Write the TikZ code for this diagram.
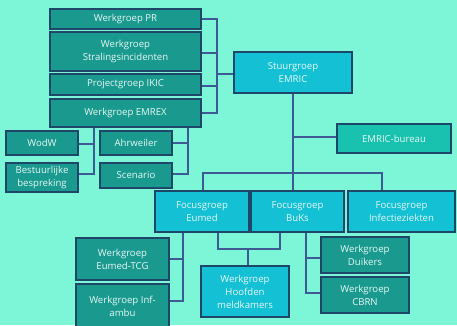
\documentclass[tikz,border=0pt]{standalone}
\usepackage{fontspec}
\setmainfont{Open Sans}
\definecolor{bg}{RGB}{125,245,215}
\definecolor{teal}{RGB}{26,154,143}
\definecolor{cyanbox}{RGB}{20,192,212}
\definecolor{greenbox}{RGB}{24,194,174}
\definecolor{linec}{RGB}{62,90,148}
\definecolor{bord}{RGB}{30,70,105}
\definecolor{txt}{RGB}{230,248,245}
\tikzset{
  box/.style={draw=bord, line width=1.1pt, text=txt, align=center, inner sep=0pt,
    font=\fontsize{9.6}{13}\selectfont},
  tealbox/.style={box, fill=teal},
  cyanb/.style={box, fill=cyanbox},
  greenb/.style={box, fill=greenbox},
  conn/.style={draw=linec, line width=1.4pt},
}
% box from corners
\newcommand{\mybox}[7]{% style, name, x1,y1,x2,y2, text
  \node[#1, minimum width=#5pt-#3pt, minimum height=#6pt-#4pt] (#2) at ({(#3+#5)/2},{(#4+#6)/2}) {#7};}
\begin{document}
\begin{tikzpicture}[x=1pt,y=-1pt]
\fill[bg] (0,0) rectangle (457,325);
\useasboundingbox (0,0) rectangle (457,325);
\begin{scope}
\clip (0,0) rectangle (457,325);
% connectors first
\coordinate (b1) at (217,19);
\coordinate (b2) at (217,113);
\coordinate (s1) at (217,74);
\draw[conn] (201,19) -- (b1) -- (b2) -- (201,113);
\draw[conn] (201,53) -- (217,53);
\draw[conn] (201,86) -- (217,86);
\draw[conn] (s1) -- (234,74);
% stuurgroep down
\draw[conn] (293,93) -- (293,191);
\draw[conn] (293,137) -- (337,137);
\draw[conn] (203,191) -- (203,173) -- (382,173) -- (382,191);
% EMREX subs
\draw[conn] (94,127) -- (94,174) -- (78,174);
\draw[conn] (94,144) -- (78,144);
\draw[conn] (188,127) -- (188,174) -- (172,174);
\draw[conn] (188,143) -- (172,143);
% Eumed subs
\draw[conn] (183,232) -- (183,301) -- (169,301);
\draw[conn] (183,259) -- (169,259);
\draw[conn] (218,232) -- (218,249) -- (280,249) -- (280,232);
\draw[conn] (248,249) -- (248,265);
% BuKs subs
\draw[conn] (306,232) -- (306,293) -- (321,293);
\draw[conn] (306,258) -- (321,258);
% boxes
\mybox{tealbox}{pr}{50}{9}{201}{29}{Werkgroep PR}
\mybox{tealbox}{stral}{50}{32}{201}{71}{Werkgroep\\Stralingsincidenten}
\mybox{tealbox}{ikic}{50}{74}{201}{95}{Projectgroep IKIC}
\mybox{tealbox}{emrex}{50}{99}{201}{127}{Werkgroep EMREX}
\mybox{cyanb}{stuur}{234}{52}{352}{93}{Stuurgroep\\EMRIC}
\mybox{greenb}{bureau}{337}{124}{451}{153}{EMRIC-bureau}
\mybox{tealbox}{wodw}{6}{131}{78}{155}{WodW}
\mybox{tealbox}{best}{6}{163}{78}{192}{Bestuurlijke\\bespreking}
\mybox{tealbox}{ahr}{100}{131}{172}{155}{Ahrweiler}
\mybox{tealbox}{scen}{100}{163}{172}{188}{Scenario}
\mybox{cyanb}{eumed}{155}{191}{249}{232}{Focusgroep\\Eumed}
\mybox{cyanb}{buks}{251}{191}{344}{232}{Focusgroep\\BuKs}
\mybox{cyanb}{infect}{348}{191}{455}{232}{Focusgroep\\Infectieziekten}
\mybox{tealbox}{tcg}{76}{238}{169}{280}{Werkgroep\\Eumed-TCG}
\mybox{tealbox}{infamb}{76}{284}{169}{328}{Werkgroep Inf-\\ambu}
\mybox{cyanb}{hoofden}{201}{266}{289}{317}{Werkgroep\\Hoofden\\meldkamers}
\mybox{tealbox}{duik}{321}{237}{409}{273}{Werkgroep\\Duikers}
\mybox{tealbox}{cbrn}{321}{277}{409}{313}{Werkgroep\\CBRN}
\end{scope}
\end{tikzpicture}
\end{document}
